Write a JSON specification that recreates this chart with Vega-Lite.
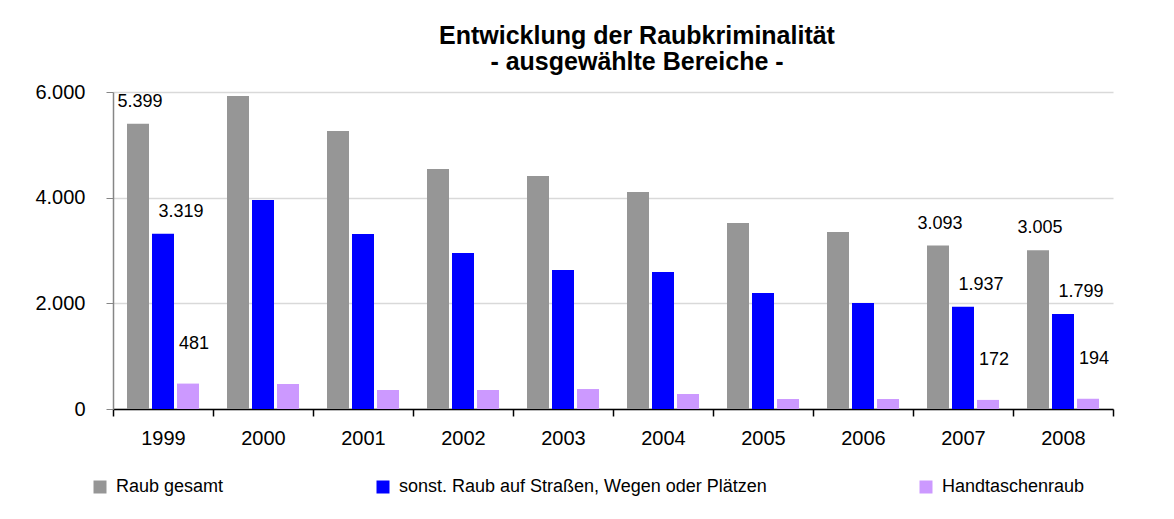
{
  "$schema": "https://vega.github.io/schema/vega-lite/v6.json",
  "width": 1000,
  "height": 317,
  "autosize": {"type": "none"},
  "padding": {"left": 113, "top": 92, "right": 61, "bottom": 110},
  "background": "white",
  "config": {
    "font": "Liberation Sans",
    "view": {"stroke": null},
    "locale": {"number": {"decimal": ",", "thousands": ".", "grouping": [3], "currency": ["", " €"]}}
  },
  "title": {
    "text": ["Entwicklung der Raubkriminalität", "- ausgewählte Bereiche -"],
    "font": "Liberation Sans",
    "fontSize": 25,
    "fontWeight": "bold",
    "lineHeight": 26,
    "color": "black",
    "anchor": "middle",
    "dx": 24,
    "offset": 7
  },
  "data": {
    "values": [
      {"year": "1999", "series": "Raub gesamt", "value": 5399},
      {"year": "2000", "series": "Raub gesamt", "value": 5925},
      {"year": "2001", "series": "Raub gesamt", "value": 5262},
      {"year": "2002", "series": "Raub gesamt", "value": 4543},
      {"year": "2003", "series": "Raub gesamt", "value": 4410},
      {"year": "2004", "series": "Raub gesamt", "value": 4107},
      {"year": "2005", "series": "Raub gesamt", "value": 3521},
      {"year": "2006", "series": "Raub gesamt", "value": 3350},
      {"year": "2007", "series": "Raub gesamt", "value": 3093},
      {"year": "2008", "series": "Raub gesamt", "value": 3005},
      {"year": "1999", "series": "sonst. Raub auf Straßen, Wegen oder Plätzen", "value": 3319},
      {"year": "2000", "series": "sonst. Raub auf Straßen, Wegen oder Plätzen", "value": 3956},
      {"year": "2001", "series": "sonst. Raub auf Straßen, Wegen oder Plätzen", "value": 3312},
      {"year": "2002", "series": "sonst. Raub auf Straßen, Wegen oder Plätzen", "value": 2953},
      {"year": "2003", "series": "sonst. Raub auf Straßen, Wegen oder Plätzen", "value": 2631},
      {"year": "2004", "series": "sonst. Raub auf Straßen, Wegen oder Plätzen", "value": 2593},
      {"year": "2005", "series": "sonst. Raub auf Straßen, Wegen oder Plätzen", "value": 2196},
      {"year": "2006", "series": "sonst. Raub auf Straßen, Wegen oder Plätzen", "value": 2006},
      {"year": "2007", "series": "sonst. Raub auf Straßen, Wegen oder Plätzen", "value": 1937},
      {"year": "2008", "series": "sonst. Raub auf Straßen, Wegen oder Plätzen", "value": 1799},
      {"year": "1999", "series": "Handtaschenraub", "value": 481},
      {"year": "2000", "series": "Handtaschenraub", "value": 473},
      {"year": "2001", "series": "Handtaschenraub", "value": 360},
      {"year": "2002", "series": "Handtaschenraub", "value": 360},
      {"year": "2003", "series": "Handtaschenraub", "value": 378},
      {"year": "2004", "series": "Handtaschenraub", "value": 284},
      {"year": "2005", "series": "Handtaschenraub", "value": 189},
      {"year": "2006", "series": "Handtaschenraub", "value": 189},
      {"year": "2007", "series": "Handtaschenraub", "value": 172},
      {"year": "2008", "series": "Handtaschenraub", "value": 194}
    ]
  },
  "encoding": {
    "x": {
      "field": "year",
      "type": "nominal",
      "scale": {"paddingInner": 0, "paddingOuter": 0},
      "axis": {
        "title": null,
        "labelAngle": 0,
        "labelFontSize": 20,
        "labelColor": "black",
        "labelPadding": 12,
        "tickBand": "extent",
        "tickSize": 7,
        "tickColor": "black",
        "domainColor": "black",
        "domainWidth": 1.5,
        "tickWidth": 1.5,
        "grid": false
      }
    },
    "xOffset": {
      "field": "series",
      "type": "nominal",
      "scale": {
        "domain": ["Raub gesamt", "sonst. Raub auf Straßen, Wegen oder Plätzen", "Handtaschenraub"],
        "paddingInner": 0.12,
        "paddingOuter": 0.56
      }
    },
    "y": {
      "field": "value",
      "type": "quantitative",
      "scale": {"domain": [0, 6000], "nice": false},
      "axis": {
        "title": null,
        "values": [0, 2000, 4000, 6000],
        "format": ",.0f",
        "labelFontSize": 20,
        "labelColor": "black",
        "labelPadding": 21,
        "tickSize": 7,
        "tickColor": "#868686",
        "domainColor": "#868686",
        "domainWidth": 1.5,
        "grid": true,
        "gridColor": "#d9d9d9",
        "gridWidth": 1.5
      }
    }
  },
  "layer": [
    {
      "mark": {"type": "bar"},
      "encoding": {
        "color": {
          "field": "series",
          "type": "nominal",
          "scale": {
            "domain": ["Raub gesamt", "sonst. Raub auf Straßen, Wegen oder Plätzen", "Handtaschenraub"],
            "range": ["#969696", "#0000ff", "#cc99ff"]
          },
          "legend": {
            "title": null,
            "orient": "none",
            "legendX": -22,
            "legendY": 386,
            "direction": "horizontal",
            "columnPadding": 150,
            "symbolType": "square",
            "symbolSize": 169,
            "symbolStrokeWidth": 0,
            "labelFontSize": 18,
            "labelColor": "black",
            "labelOffset": 7,
            "labelLimit": 600,
            "padding": 0
          }
        }
      }
    },
    {
      "transform": [
        {"filter": "datum.series == 'Raub gesamt' && (datum.year == '1999' || datum.year == '2007' || datum.year == '2008')"}
      ],
      "mark": {"type": "text", "fontSize": 18, "color": "black", "baseline": "middle", "dx": 2, "dy": -22},
      "encoding": {"text": {"field": "value", "type": "quantitative", "format": ",.0f"}}
    },
    {
      "transform": [
        {"filter": "datum.series == 'sonst. Raub auf Straßen, Wegen oder Plätzen' && (datum.year == '1999' || datum.year == '2007' || datum.year == '2008')"}
      ],
      "mark": {"type": "text", "fontSize": 18, "color": "black", "baseline": "middle", "dx": 18, "dy": -22},
      "encoding": {"text": {"field": "value", "type": "quantitative", "format": ",.0f"}}
    },
    {
      "transform": [
        {"filter": "datum.series == 'Handtaschenraub' && (datum.year == '1999' || datum.year == '2007' || datum.year == '2008')"}
      ],
      "mark": {"type": "text", "fontSize": 18, "color": "black", "baseline": "middle", "dx": 6, "dy": -40},
      "encoding": {"text": {"field": "value", "type": "quantitative", "format": ",.0f"}}
    }
  ]
}
